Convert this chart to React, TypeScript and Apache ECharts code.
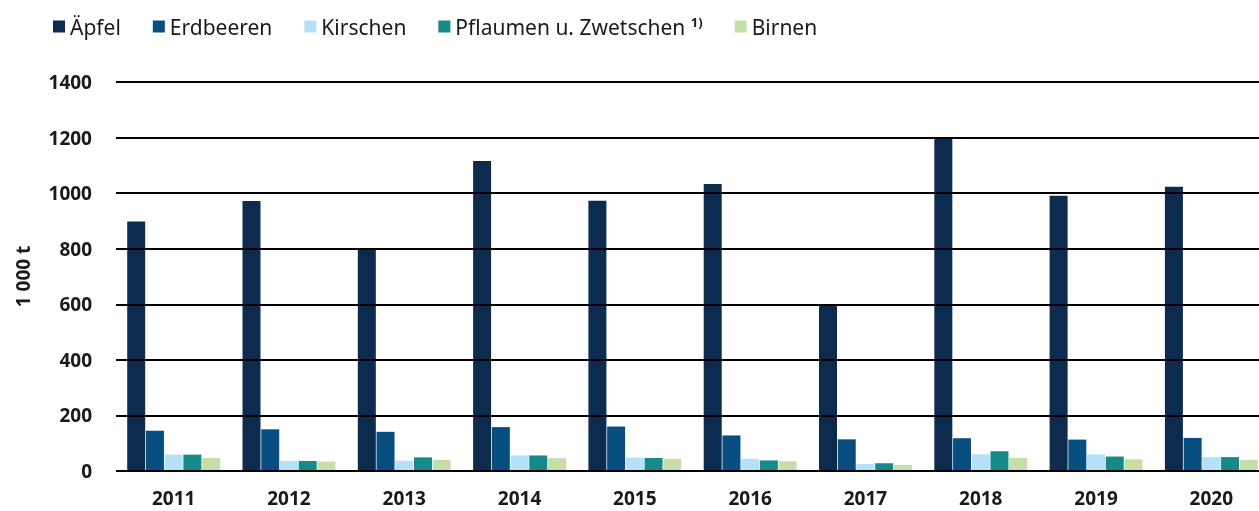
import React, { useEffect, useRef } from "react";
import * as echarts from "echarts";

const years = ["2011", "2012", "2013", "2014", "2015", "2016", "2017", "2018", "2019", "2020"];
const aepfel = [898, 972, 803, 1116, 973, 1033, 597, 1198, 991, 1023];
const erdbeeren = [145, 150, 141, 158, 160, 128, 114, 118, 113, 119];
const kirschen = [59, 36, 37, 56, 48, 44, 25, 60, 60, 50];
const pflaumen = [59, 36, 49, 56, 47, 38, 28, 71, 52, 50];
const birnen = [47, 34, 40, 46, 43, 35, 22, 47, 42, 40];
const yTicks = { min: 0, max: 1400, interval: 200 };

const seriesDefs = [
  { name: "Äpfel", data: aepfel, color: "#0d2b4e" },
  { name: "Erdbeeren", data: erdbeeren, color: "#074f80" },
  { name: "Kirschen", data: kirschen, color: "#b4e1f7" },
  { name: "Pflaumen u. Zwetschen", data: pflaumen, color: "#158a8a" },
  { name: "Birnen", data: birnen, color: "#c6dfa6" },
];

export default function App() {
  const ref = useRef<HTMLDivElement>(null);
  useEffect(() => {
    if (!ref.current) return;
    const chart = echarts.init(ref.current, undefined, { renderer: "svg" });
    const font = "'Noto Sans', sans-serif";
    chart.setOption({
      animation: false,
      textStyle: { fontFamily: font },
      legend: {
        left: 48,
        top: 10,
        itemWidth: 12,
        itemHeight: 12,
        itemGap: 32,
        icon: "rect",
        textStyle: {
          fontFamily: font,
          fontSize: 21,
          color: "#1a1a1a",
          rich: { sup: { fontSize: 13, fontWeight: "bold", fontFamily: font, color: "#1a1a1a", verticalAlign: "top", padding: [0, 0, 10, 0] } },
        },
        formatter: (n: string) => (n === "Pflaumen u. Zwetschen" ? n + " {sup|1)}" : n),
        data: seriesDefs.map((s) => s.name),
      },
      grid: { left: 116, top: 82, width: 1153, height: 389, containLabel: false },
      xAxis: {
        type: "category",
        data: years,
        axisLine: { show: false },
        axisTick: { show: false },
        axisLabel: { fontFamily: font, fontSize: 19, fontWeight: "bold", color: "#1a1a1a", margin: 17 },
      },
      yAxis: {
        type: "value",
        min: yTicks.min,
        max: yTicks.max,
        interval: yTicks.interval,
        z: 5,
        name: "1 000 t",
        nameLocation: "middle",
        nameGap: 84,
        nameRotate: 90,
        nameTextStyle: { fontFamily: font, fontSize: 19, fontWeight: "bold", color: "#1a1a1a" },
        axisLine: { show: false },
        axisTick: { show: false },
        axisLabel: {
          fontFamily: font,
          fontSize: 19,
          fontWeight: "bold",
          color: "#1a1a1a",
          margin: 24,
          formatter: (v: number) => String(v),
        },
        splitLine: { show: true, lineStyle: { color: "#000", width: 2 } },
      },
      series: seriesDefs.map((s) => ({
        name: s.name,
        type: "bar",
        data: s.data,
        barWidth: 18,
        barGap: "4%",
        itemStyle: { color: s.color },
      })),
    });
    return () => chart.dispose();
  }, []);
  return <div ref={ref} style={{ position: "fixed", left: 0, top: 0, width: 1290, height: 511 }} />;
}
